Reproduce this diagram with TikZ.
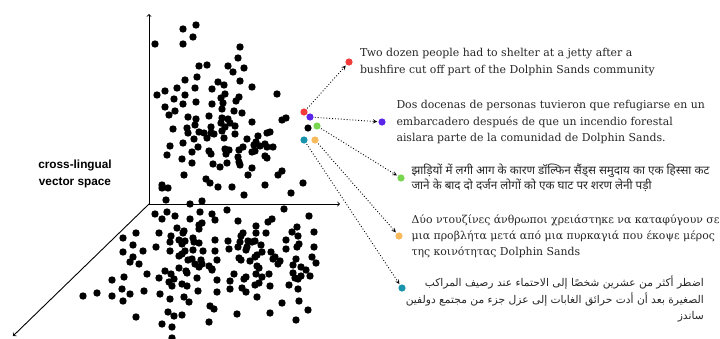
\documentclass[tikz,border=0pt]{standalone}
\usepackage{fontspec}
\setmainfont{DejaVu Serif}
\newfontfamily\hindifont[Script=Devanagari]{Noto Sans}
\newfontfamily\arabicfont[Script=Arabic]{DejaVu Sans}
\newfontfamily\labelfont{Liberation Sans}
\TeXXeTstate=1
\usetikzlibrary{positioning, arrows}
\definecolor{enred}{HTML}{F23B3B}
\definecolor{espurple}{HTML}{5B26E8}
\definecolor{higreen}{HTML}{79D651}
\definecolor{elorange}{HTML}{F7BA5C}
\definecolor{arteal}{HTML}{1A94AD}
\tikzset{
x=1pt, y=-1pt, % one unit is one pixel of the picture, y going down
axis/.style={->, >=to, line width=0.9pt}, % the three axes
pt/.style={circle, inner sep=0pt, minimum size=7.2pt, fill=black}, % a sentence vector
link/.style={->, >=stealth, dotted, line width=0.9pt, shorten >=1pt, shorten <=1pt}, % from the cluster to the sentence
sentence/.style={inner sep=0pt, align=left, text=black!85, font=\fontsize{10.9}{16.2}\selectfont}, % the sentence itself
}

\begin{document}
\begin{tikzpicture}
    \useasboundingbox (0,0) rectangle (720,338);

    % axes
    \coordinate (o) at (149,204);
    \draw[axis] (o) -- (149,14);
    \draw[axis] (o) -- (340,204);
    \draw[axis] (o) -- (13,336);
    \node[font=\labelfont\bfseries\fontsize{11.8}{16.5}\selectfont, align=center] (lbl) at (75,174) {cross-lingual\\vector space};

    % the point cloud
    \foreach \p in {(155,44),(183,29),(196,25),(193,37),(183,44),(240,47),(238,58),(199,66),(207,65),(228,66),
        (233,72),(244,68),(197,77),(185,80),(218,82),(224,85),(240,81),(252,87),(177,88),(195,88),(212,89),
        (165,91),(157,95),(185,95),(174,99),(225,94),(221,98),(239,97),(236,101),(277,94),(196,102),(183,104),
        (212,104),(165,107),(175,111),(223,103),(222,109),(234,111),(242,113),(169,115),(188,117),(196,119),
        (209,116),(222,118),(228,119),(221,123),(230,123),(252,122),(235,126),(211,127),(195,125),(187,128),
        (173,129),(225,127),(199,132),(188,133),(204,133),(214,134),(222,131),(235,134),(282,120),(286,118),
        (194,139),(207,138),(211,133),(224,138),(247,139),(258,136),(267,133),(270,132),(183,143),(170,146),
        (198,147),(192,152),(209,151),(211,154),(225,149),(229,150),(239,150),(243,147),(254,145),(256,142),
        (260,146),(265,144),(267,147),(273,147),(252,152),(255,151),(226,154),(238,157),(167,155),(182,159),
        (192,163),(213,164),(227,163),(239,162),(240,165),(252,168),(220,167),(265,156),(267,158),(282,171),
        (184,175),(206,179),(210,183),(218,187),(232,187),(248,175),(278,175),(265,185),(303,183),(291,193),
        (244,195),(162,185),(168,188),(162,188),(166,200),(190,204),(202,201)}
        \fill \p circle (3.7pt);
    \foreach \p in {(155,214),(167,212),(162,219),(175,216),(190,219),(200,212),(212,214),(215,220),(227,210),
        (238,221),(268,222),(272,219),(284,209),(309,216),(256,226),(297,227),(199,225),(202,223),(199,229),
        (177,228),(184,231),(159,233),(136,233),(123,238),(171,236),(183,233),(193,238),(179,240),(185,241),
        (170,242),(194,242),(199,243),(215,240),(228,241),(241,236),(243,233),(256,233),(255,241),(240,242),
        (248,241),(252,242),(266,233),(292,232),(298,236),(286,240),(314,232),(133,245),(143,251),(123,252),
        (156,247),(170,251),(182,244),(185,251),(193,250),(203,251),(215,251),(229,249),(238,247),(246,250),
        (247,247),(261,245),(262,252),(271,252),(286,249),(299,244),(297,247),(314,247),(133,257),(130,262),
        (139,264),(179,256),(182,254),(188,260),(192,259),(201,260),(202,264),(217,260),(239,258),(241,260),
        (250,261),(257,255),(255,257),(273,259),(280,261),(275,257),(296,259),(312,257),(316,263),(179,268),
        (186,271),(195,264),(199,267),(209,266),(212,269),(257,266),(259,268),(278,264),(293,265),(301,267),
        (306,270),(147,274),(165,271),(171,274),(174,279),(187,273),(197,278),(212,270),(234,274),(246,277),
        (244,279),(256,274),(262,277),(269,274),(293,273),(295,278),(301,276),(310,276),(112,280),(124,277),
        (159,278),(169,282),(172,286),(182,284),(187,286),(217,280),(230,281),(230,289),(242,288),(246,292),
        (259,283),(255,285),(270,286),(289,285),(298,279),(298,289),(83,296),(97,293),(112,296),(122,289),
        (123,301),(130,294),(144,291),(160,294),(170,299),(184,297),(189,302),(198,291),(217,292),(257,297),
        (282,303),(299,301),(136,317),(168,312),(174,316),(182,315),(210,306),(214,309),(237,314),(270,313),
        (308,310),(296,320),(209,322),(162,324),(172,327),(172,338)}
        \fill \p circle (3.7pt);

    % the five translations inside the cloud
    \node[pt, fill=enred] (en0) at (304,112) {};
    \node[pt, fill=espurple] (es0) at (310,117) {};
    \node[pt] (x0) at (308,128) {};
    \node[pt, fill=higreen] (hi0) at (317,126) {};
    \node[pt, fill=arteal] (ar0) at (304,140) {};
    \node[pt, fill=elorange] (el0) at (315,140) {};

    % and the same points next to their sentences
    \node[pt, fill=enred] (en) at (349,62) {};
    \node[pt, fill=espurple] (es) at (382,122) {};
    \node[pt, fill=higreen] (hi) at (401,178) {};
    \node[pt, fill=elorange] (el) at (399,236) {};
    \node[pt, fill=arteal] (ar) at (402,288) {};

    \node[sentence, right=7pt of en] (enTxt) {Two dozen people had to shelter at a jetty after a\\bushfire cut off part of the Dolphin Sands community};
    \node[sentence, right=10.5pt of es] (esTxt) {Dos docenas de personas tuvieron que refugiarse en un\\embarcadero después de que un incendio forestal\\aislara parte de la comunidad de Dolphin Sands.};
    \node[sentence, right=6.5pt of hi, font=\hindifont\fontsize{11.7}{14.5}\selectfont] (hiTxt) {झाड़ियों में लगी आग के कारण डॉल्फिन सैंड्स समुदाय का एक हिस्सा कट\\जाने के बाद दो दर्जन लोगों को एक घाट पर शरण लेनी पड़ी};
    \node[sentence, right=8.5pt of el] (elTxt) {Δύο ντουζίνες άνθρωποι χρειάστηκε να καταφύγουν σε\\μια προβλήτα μετά από μια πυρκαγιά που έκοψε μέρος\\της κοινότητας Dolphin Sands};
    \node[sentence, anchor=north east, align=right, font=\arabicfont\fontsize{10.7}{16.5}\selectfont] (arTxt) at (704,276)
        {\beginR اضطر أكثر من عشرين شخصًا إلى الاحتماء عند رصيف المراكب\endR\\
         \beginR الصغيرة بعد أن أدت حرائق الغابات إلى عزل جزء من مجتمع دولفين\endR\\
         \beginR ساندز\endR};

    \draw[link] (en0) -- (en);
    \draw[link] (es0) -- (es);
    \draw[link] (hi0) -- (hi);
    \draw[link] (el0) -- (el);
    \draw[link] (ar0) -- (ar);
\end{tikzpicture}
\end{document}
